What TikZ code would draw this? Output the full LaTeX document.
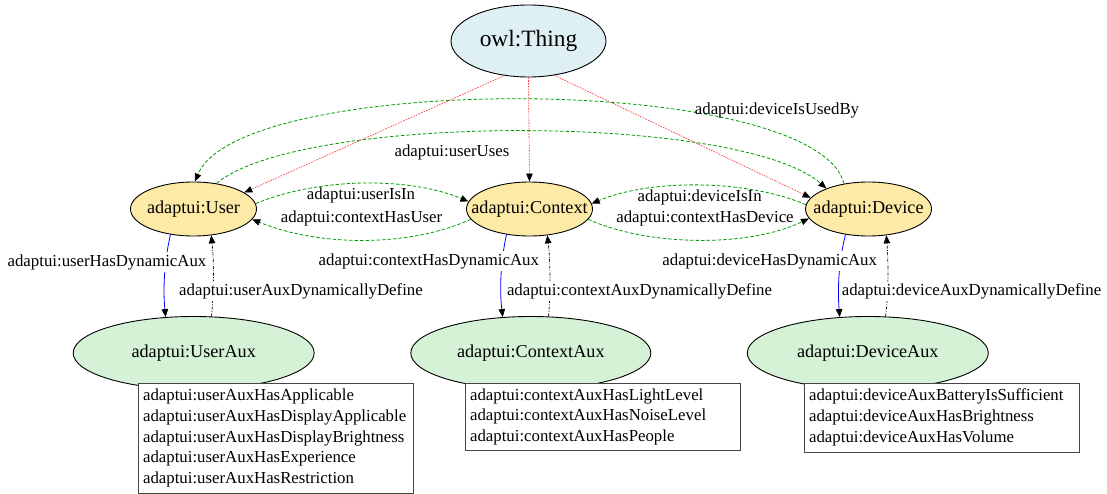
\documentclass[tikz,border=0pt]{standalone}
\usepackage{fontspec}
\setmainfont{Liberation Serif}
\usetikzlibrary{arrows.meta,shapes.geometric}

\definecolor{thingfill}{RGB}{223,240,245}
\definecolor{classfill}{RGB}{252,234,166}
\definecolor{auxfill}{RGB}{214,242,214}
\definecolor{relgreen}{RGB}{0,155,0}
\definecolor{subred}{RGB}{255,60,60}
\definecolor{auxblue}{RGB}{0,0,255}
\definecolor{boxline}{RGB}{70,70,70}

% zero-width box so the ellipse size comes from minimum width/height only
\newcommand\zw[1]{\makebox[0pt]{#1}}

\begin{document}
\begin{tikzpicture}[x=1pt,y=-1pt,
  arrowtip/.style={-{Triangle[length=8pt,width=6.5pt,color=black]}},
  cls/.style={ellipse,draw=black,line width=0.9pt,inner sep=0pt,
    font=\fontsize{18.2}{20}\selectfont},
  subcls/.style={arrowtip,draw=subred,line width=0.7pt,dash pattern=on 1.6pt off 1.2pt},
  relarrow/.style={arrowtip,draw=relgreen,line width=0.8pt,dash pattern=on 3.5pt off 2pt},
  hasaux/.style={arrowtip,draw=auxblue,line width=0.8pt},
  defaux/.style={arrowtip,draw=black,line width=0.7pt,dash pattern=on 3pt off 1.5pt on 0.8pt off 1.5pt},
  lbl/.style={font=\fontsize{16.8}{20}\selectfont,inner sep=1pt},
  lblw/.style={lbl,fill=white,inner sep=2pt},
  props/.style={draw=boxline,line width=0.8pt,fill=white,anchor=north west,align=left,
    text width=265.6pt,inner xsep=4.4pt,inner ysep=0pt,
    font=\fontsize{16.8}{20.8}\selectfont}
]
\useasboundingbox (0,0) rectangle (1107,494);

% classes
\node[cls,fill=thingfill,minimum width=155pt,minimum height=72pt,
  font=\fontsize{23.4}{26}\selectfont] (T) at (528.5,41) {\zw{owl:Thing}};
\node[cls,fill=classfill,minimum width=126pt,minimum height=54pt] (U) at (193.5,209) {\zw{adaptui:User}};
\node[cls,fill=classfill,minimum width=126pt,minimum height=54pt] (C) at (529.5,209) {\zw{adaptui:Context}};
\node[cls,fill=classfill,minimum width=126pt,minimum height=54pt] (D) at (868.5,209) {\zw{adaptui:Device}};
\node[cls,fill=auxfill,minimum width=241pt,minimum height=73pt] (UA) at (193.7,353) {\zw{adaptui:UserAux}};
\node[cls,fill=auxfill,minimum width=240pt,minimum height=73pt] (CA) at (530.8,353) {\zw{adaptui:ContextAux}};
\node[cls,fill=auxfill,minimum width=241pt,minimum height=73pt] (DA) at (867.8,353) {\zw{adaptui:DeviceAux}};

% subclass links
\draw[subcls] (T.235) -- (U.18);
\draw[subcls] (T.south) -- (C.north);
\draw[subcls] (T.307) -- (D.169);

% object properties between the classes
\draw[relarrow] (D.134) .. controls (815,72) and (240,72) .. (U.87);
\node[lbl] (l1) at (777,110) {adaptui:deviceIsUsedBy};
\draw[relarrow] (U.48) .. controls (300,113) and (740,113) .. (D.154);
\node[lbl] (l2) at (452,152) {adaptui:userUses};
\draw[relarrow] (U.5) .. controls (320,177) and (410,177) .. (C.173);
\node[lbl] (l3) at (361,195) {adaptui:userIsIn};
\draw[relarrow] (C.190) .. controls (410,247) and (320,247) .. (U.-10);
\node[lbl] (l4) at (361.5,218) {adaptui:contextHasUser};
\draw[relarrow] (D.176) .. controls (745,179) and (650,179) .. (C.5);
\node[lbl] (l5) at (699.6,197.7) {adaptui:deviceIsIn};
\draw[relarrow] (C.-10) .. controls (650,247) and (750,247) .. (D.189);
\node[lbl] (l6) at (705,218.3) {adaptui:contextHasDevice};

% class <-> auxiliary links
\draw[hasaux] (U.228) .. controls (164,262) and (163,290) .. (UA.128);
\draw[defaux] (UA.64) .. controls (214,290) and (214,262) .. (U.-56);
\draw[hasaux] (C.228) .. controls (500.5,262) and (499.5,290) .. (CA.128);
\draw[defaux] (CA.64) .. controls (550.5,290) and (550.5,262) .. (C.-56);
\draw[hasaux] (D.228) .. controls (838.5,262) and (837.5,290) .. (DA.128);
\draw[defaux] (DA.64) .. controls (888.5,290) and (888.5,262) .. (D.-56);

\node[lblw] (l7) at (107,262) {adaptui:userHasDynamicAux};
\node[lblw] (l8) at (301,291) {adaptui:userAuxDynamicallyDefine};
\node[lblw] (l9) at (428.8,261) {adaptui:contextHasDynamicAux};
\node[lblw] (l10) at (639.5,291) {adaptui:contextAuxDynamicallyDefine};
\node[lblw] (l11) at (769.7,261) {adaptui:deviceHasDynamicAux};
\node[lblw] (l12) at (971.5,291.5) {adaptui:deviceAuxDynamicallyDefine};

% data property lists
\node[props,minimum height=110pt] (UB) at (138.3,382.7) {adaptui:userAuxHasApplicable\\
adaptui:userAuxHasDisplayApplicable\\
adaptui:userAuxHasDisplayBrightness\\
adaptui:userAuxHasExperience\\
adaptui:userAuxHasRestriction};
\node[props,minimum height=67.5pt] (CB) at (465.3,382.7) {adaptui:contextAuxHasLightLevel\\
adaptui:contextAuxHasNoiseLevel\\
adaptui:contextAuxHasPeople};
\node[props,minimum height=69pt] (DB) at (804.3,382.7) {adaptui:deviceAuxBatteryIsSufficient\\
adaptui:deviceAuxHasBrightness\\
adaptui:deviceAuxHasVolume};
\end{tikzpicture}
\end{document}
